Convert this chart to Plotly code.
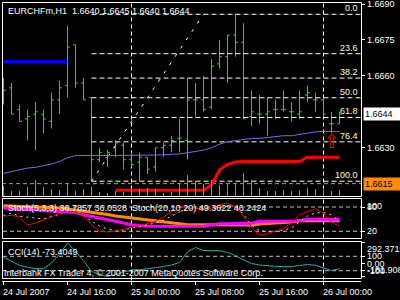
import plotly.graph_objects as go
import pandas as pd

# ---------------- data ----------------
symbol = "EURCHFm,H1"
bar_times = pd.date_range("2007-07-24 08:00", periods=43, freq="h")

opens = [1.6655, 1.6655, 1.6646, 1.6642, 1.6644, 1.6644, 1.6641, 1.6650, 1.6656, 1.6673,
         1.6657, 1.6651, 1.6625, 1.6626, 1.6630, 1.6631, 1.6625, 1.6624, 1.6626, 1.6622,
         1.6630, 1.6631, 1.6634, 1.6633, 1.6650, 1.6650, 1.6647, 1.6665, 1.6668, 1.6677,
         1.6674, 1.6643, 1.6644, 1.6644, 1.6646, 1.6646, 1.6645, 1.6644, 1.6652, 1.6650,
         1.6650, 1.6640, 1.6640]
highs = [1.6659, 1.6657, 1.6648, 1.6646, 1.6649, 1.6646, 1.6653, 1.6658, 1.6681, 1.6673,
         1.6659, 1.6651, 1.6630, 1.6629, 1.6633, 1.6632, 1.6628, 1.6628, 1.6626, 1.6630,
         1.6632, 1.6635, 1.6642, 1.6659, 1.6657, 1.6660, 1.6667, 1.6675, 1.6677, 1.6686,
         1.6682, 1.6654, 1.6652, 1.6651, 1.6650, 1.6654, 1.6649, 1.6654, 1.6656, 1.6653,
         1.6651, 1.6645, 1.6645]
lows = [1.6648, 1.6644, 1.6641, 1.6633, 1.6629, 1.6636, 1.6638, 1.6644, 1.6651, 1.6655,
        1.6650, 1.6616, 1.6624, 1.6622, 1.6626, 1.6621, 1.6622, 1.6616, 1.6619, 1.6620,
        1.6626, 1.6628, 1.6628, 1.6625, 1.6643, 1.6645, 1.6646, 1.6663, 1.6657, 1.6668,
        1.6642, 1.6639, 1.6640, 1.6635, 1.6642, 1.6645, 1.6641, 1.6642, 1.6649, 1.6645,
        1.6643, 1.6636, 1.6640]
closes = [1.6654, 1.6644, 1.6641, 1.6643, 1.6645, 1.6642, 1.6650, 1.6655, 1.6672, 1.6657,
          1.6650, 1.6625, 1.6628, 1.6628, 1.6632, 1.6625, 1.6623, 1.6626, 1.6621, 1.6630,
          1.6631, 1.6633, 1.6634, 1.6650, 1.6650, 1.6646, 1.6664, 1.6668, 1.6677, 1.6674,
          1.6642, 1.6645, 1.6644, 1.6645, 1.6646, 1.6646, 1.6645, 1.6645, 1.6653, 1.6650,
          1.6644, 1.6640, 1.6644]
volumes = [110, 60, 60, 100, 170, 100, 80, 70, 130, 60,
           80, 100, 50, 40, 60, 50, 90, 80, 90, 80,
           40, 50, 130, 220, 160, 130, 170, 120, 140, 140,
           240, 170, 90, 60, 60, 70, 60, 70, 90, 80,
           90, 60, 70]
ma_values = [1.66193, 1.66201, 1.66207, 1.66215, 1.66218, 1.66224, 1.66232, 1.66242, 1.66258, 1.66267,
             1.66268, 1.66269, 1.66268, 1.66267, 1.66268, 1.66268, 1.66267, 1.66268, 1.66269, 1.66269,
             1.66270, 1.66271, 1.66274, 1.66279, 1.66285, 1.66290, 1.66300, 1.66315, 1.66325, 1.66330,
             1.66335, 1.66339, 1.66339, 1.66343, 1.66346, 1.66350, 1.66350, 1.66356, 1.66360, 1.66366,
             1.66368, 1.66368, 1.66368]
red_values = [None] * 14 + [1.66122] * 12 + [1.66144, 1.66207, 1.66230, 1.66240] + [1.66242] * 8 + [1.66260] * 5
blue_level = 1.6666
blue_bars = 9
orange_level = 1.6615
fib_start_bar, fib_end_bar = 11, 25
fib_low, fib_high = 1.66160, 1.66857
fib_levels = [0.0, 23.6, 38.2, 50.0, 61.8, 76.4, 100.0]
signal_bars = [41]
signal_prices = [1.66318]

stoch_fast_main = [57, 59.5, 55.3, 35.6, 40.5, 47.2, 55.3, 64, 69.4, 67.7,
                   60, 35.6, 20, 18.3, 20.7, 25, 29.9, 33.8, 39.8, 44.2,
                   55.3, 67.7, 81.2, 77.5, 77.5, 73.8, 77.5, 85, 90, 80,
                   57.8, 30.6, 9.6, 14.6, 20.7, 27, 40.5, 60.2, 68.9, 75,
                   65.2, 42, 33]
stoch_fast_signal = [58.5, 65.2, 57, 54, 52.8, 50.4, 57.8, 61, 70.1, 71.4,
                     57.8, 45.4, 33, 25.7, 22, 23.2, 28.1, 32.3, 35.6, 40.5,
                     47.9, 57.8, 67.7, 75, 77.5, 76.3, 75, 77.5, 82.5, 82.5,
                     62, 35, 22, 19, 20, 23, 28.1, 43, 57.8, 65.2,
                     66.4, 60.2, 45]
stoch_slow_main = [77.5, 76.3, 75, 73.8, 72.6, 71.4, 69.4, 68.9, 67.7, 66.4,
                   61, 56.5, 52.8, 49.1, 44.7, 40.5, 36.3, 34.3, 32.3, 32.3,
                   32.3, 32.3, 32.3, 32.3, 32.3, 32.3, 35.6, 38.8, 38.8, 38.8,
                   38.8, 39.8, 44.7, 44.7, 44.7, 44.7, 44.7, 45.4, 50, 50,
                   50, 50, 49.4]
stoch_slow_signal = [83.2, 82.5, 81.7, 81.2, 80.5, 80, 78.8, 77.5, 75, 72.6,
                     69.4, 66.4, 64, 61.5, 57.8, 55.3, 52.8, 50.4, 47.9, 45.4,
                     43, 40.5, 38, 36.3, 36.3, 36.3, 36.3, 36.3, 35.6, 35.6,
                     35.6, 35.6, 38, 39.3, 40.5, 42.2, 43, 46.2, 46.2, 46.2,
                     46.2, 46.2, 46.2]
stoch_label = "Stoch(5,3,3) 36.7857 36.0528\u00a0\u00a0Stoch(20,10,20) 49.3622 46.2424"
stoch_levels = [80, 20]
stoch_scale = [100, 0]

cci_values = [86, 31, -25, -53, -72, -72, 7, 132, 285, 169,
              39, -108, -156, -178, -156, -118, -90, -86, -76, -58,
              -42, -21, 14, 160, 222, 181, 178, 178, 153, 111,
              49, 0, -21, -35, -39, -42, -44, -28, -14, -25,
              -63, -97, -73.4049]
cci_levels = [100, -100]
cci_tick_labels = [(292.3716, "292.3716"), (100, "100"), (0, "0.00"), (-100, "-100"), (-181.908, "-181.908")]

price_ticks = [1.6690, 1.6675, 1.6660, 1.6630]
separators = ["2007-07-25 00:00", "2007-07-26 00:00"]
time_ticks = ["2007-07-24 08:00", "2007-07-24 16:00", "2007-07-25 00:00",
              "2007-07-25 08:00", "2007-07-25 16:00", "2007-07-26 00:00"]
time_labels = ["24 Jul 2007", "24 Jul 16:00", "25 Jul 00:00",
               "25 Jul 08:00", "25 Jul 16:00", "26 Jul 00:00"]
copyright_text = "Interbank FX Trader 4, \u00a9 2001-2007 MetaQuotes Software Corp."

# ---------------- layout calibration ----------------
W, H = 400, 300
FONT = "Liberation Sans, Arial, sans-serif"
GREEN = "#32cd32"
def py(px):
    return 1 - px / H
def pxr(px):
    return px / W

x_left, x_right = 2.0, 361.0
px_per_hour = 8.0
t0 = bar_times[0] - pd.Timedelta(hours=1.5 / px_per_hour)
t1 = t0 + pd.Timedelta(hours=(x_right - x_left) / px_per_hour)
fmt = "%Y-%m-%d %H:%M:%S.%f"

main_top, main_bot = 2.5, 196.5
p_ref, p_ref_px, px_per_price = 1.6690, 4.0, 23950.0
main_range = [p_ref - (main_bot - p_ref_px) / px_per_price, p_ref + (p_ref_px - main_top) / px_per_price]
st_top, st_bot = 198.5, 238.5
st_zero_px, st_scale = 239.4, 0.405
st_range = [(st_zero_px - st_bot) / st_scale, (st_zero_px - st_top) / st_scale]
cci_top, cci_bot = 241.5, 278.5
cci_zero_px, cci_scale = 263.5, 0.072
cci_range = [(cci_zero_px - cci_bot) / cci_scale, (cci_zero_px - cci_top) / cci_scale]

fig = go.Figure()

# volumes (overlay axis)
fig.add_trace(go.Bar(x=bar_times, y=volumes, yaxis="y4", width=450000,
                     marker=dict(color=GREEN, line=dict(width=0)), hoverinfo="skip"))

# orange horizontal line
fig.add_trace(go.Scatter(x=[t0, t1], y=[orange_level, orange_level], mode="lines",
                         line=dict(color="#ff8c00", width=1, dash="4px,3px"), hoverinfo="skip"))
# fib levels
for lvl in fib_levels:
    p = fib_high - (fib_high - fib_low) * lvl / 100
    fig.add_trace(go.Scatter(x=[bar_times[fib_start_bar], t1], y=[p, p], mode="lines",
                             line=dict(color="white", width=1, dash="5px,3px"), hoverinfo="skip"))
fig.add_trace(go.Scatter(x=[bar_times[fib_start_bar], bar_times[fib_end_bar]], y=[fib_low, fib_high],
                         mode="lines", line=dict(color="white", width=1, dash="3px,7px"), hoverinfo="skip"))

# moving average
fig.add_trace(go.Scatter(x=bar_times, y=ma_values, mode="lines",
                         line=dict(color="#7b68ee", width=1), hoverinfo="skip"))
# red thick line
fig.add_trace(go.Scatter(x=bar_times, y=red_values, mode="lines",
                         line=dict(color="#ff0000", width=3), hoverinfo="skip"))
# blue line
fig.add_trace(go.Scatter(x=bar_times[:blue_bars], y=[blue_level] * blue_bars, mode="lines",
                         line=dict(color="#0000ff", width=3), hoverinfo="skip"))

# OHLC bars
fig.add_trace(go.Ohlc(x=bar_times, open=opens, high=highs, low=lows, close=closes,
                      increasing=dict(line=dict(color=GREEN, width=1)),
                      decreasing=dict(line=dict(color=GREEN, width=1)),
                      tickwidth=0.3, hoverinfo="skip"))

# signal arrow
fig.add_trace(go.Scatter(x=[bar_times[i] for i in signal_bars], y=signal_prices, mode="text",
                         text=["\u21e7"] * len(signal_bars),
                         textfont=dict(color="#ff0000", size=19, family="DejaVu Sans"), hoverinfo="skip"))

# stochastics
fig.add_trace(go.Scatter(x=bar_times, y=stoch_slow_signal, yaxis="y2", mode="lines",
                         line=dict(color="#ff8c00", width=3), hoverinfo="skip"))
fig.add_trace(go.Scatter(x=bar_times, y=stoch_slow_main, yaxis="y2", mode="lines",
                         line=dict(color="#ff00ff", width=3), hoverinfo="skip"))
fig.add_trace(go.Scatter(x=bar_times, y=stoch_fast_signal, yaxis="y2", mode="lines",
                         line=dict(color="#f0e68c", width=1, dash="2px,4px"), hoverinfo="skip"))
fig.add_trace(go.Scatter(x=bar_times, y=stoch_fast_main, yaxis="y2", mode="lines",
                         line=dict(color="#ff0000", width=1), hoverinfo="skip"))

# CCI
fig.add_trace(go.Scatter(x=bar_times, y=cci_values, yaxis="y3", mode="lines",
                         line=dict(color="#20b2aa", width=1), hoverinfo="skip"))

shapes = []
# panel frames
for top, bot in [(main_top, main_bot), (st_top, st_bot), (cci_top, cci_bot)]:
    shapes.append(dict(type="rect", xref="paper", yref="paper", x0=pxr(2.5), x1=pxr(361.5),
                       y0=py(bot), y1=py(top), line=dict(color="white", width=1), layer="above"))
# level lines
for lv in stoch_levels:
    shapes.append(dict(type="line", xref="paper", yref="y2", x0=pxr(3), x1=pxr(361), y0=lv, y1=lv,
                       line=dict(color="#c0c0c0", width=1, dash="4px,3px"), layer="below"))
for lv in cci_levels:
    shapes.append(dict(type="line", xref="paper", yref="y3", x0=pxr(3), x1=pxr(361), y0=lv, y1=lv,
                       line=dict(color="#c0c0c0", width=1, dash="4px,3px"), layer="below"))
# period separators
for s in separators:
    shapes.append(dict(type="line", xref="x", yref="paper", x0=s, x1=s, y0=py(280.5), y1=py(2.5),
                       line=dict(color="white", width=1, dash="4px,3px"), layer="below"))

ann = []
def txt(text, x, y, xref="paper", yref="paper", xanchor="left", yanchor="middle", color="white",
        size=9, bg=None, **kw):
    d = dict(text=text, x=x, y=y, xref=xref, yref=yref, xanchor=xanchor, yanchor=yanchor,
             showarrow=False, font=dict(color=color, size=size, family=FONT), borderpad=1)
    if bg:
        d["bgcolor"] = bg
    d.update(kw)
    ann.append(d)

txt(f"{symbol}\u00a0\u00a0{opens[-1]:.4f} {highs[-1]:.4f} {lows[-1]:.4f} {closes[-1]:.4f}", pxr(5.5), py(11))
txt(stoch_label, pxr(5.5), py(208))
txt(f"CCI(14) {cci_values[-1]:.4f}", pxr(6), py(252))
txt(copyright_text, pxr(2.3), py(273))

for lvl in fib_levels:
    p = fib_high - (fib_high - fib_low) * lvl / 100
    txt(f"{lvl:.1f}", pxr(359.5), p, yref="y", xanchor="right", yanchor="bottom", color="#ffffcc", yshift=-1)

for p in price_ticks:
    txt(f"{p:.4f}", pxr(365), p, yref="y")
txt(f"{closes[-1]:.4f}", pxr(363), closes[-1], yref="y", color="black", bg="white", width=35, align="left")
txt(f"{orange_level:.4f}", pxr(363), orange_level, yref="y", color="black", bg="#ff8c00", width=35, align="left")

for v in stoch_levels:
    txt(str(v), pxr(365), v, yref="y2")
txt(str(stoch_scale[0]), pxr(365), stoch_scale[0], yref="y2", yanchor="top")
txt(str(stoch_scale[1]), pxr(365), stoch_scale[1], yref="y2", yanchor="bottom")

for v, label in cci_tick_labels:
    ya = "middle"
    if v == max(l[0] for l in cci_tick_labels):
        ya = "top"
    elif v == min(l[0] for l in cci_tick_labels):
        ya = "bottom"
    txt(label, pxr(365), v, yref="y3", yanchor=ya)

for t, lab in zip(time_ticks, time_labels):
    txt(lab, t, py(291.5), xref="x", xshift=-2.5)

yax_common = dict(side="right", showgrid=False, zeroline=False, showline=False, ticks="outside",
                  ticklen=3, tickcolor="white", showticklabels=False, anchor="x", fixedrange=True)

fig.update_layout(
    width=W, height=H, margin=dict(l=0, r=0, t=0, b=0, pad=0),
    paper_bgcolor="black", plot_bgcolor="black", showlegend=False,
    font=dict(family=FONT, color="white", size=9),
    xaxis=dict(type="date", domain=[pxr(x_left), pxr(x_right)],
               range=[t0.strftime(fmt), t1.strftime(fmt)], anchor="free", position=py(280.5),
               showgrid=False, zeroline=False, showline=True, linecolor="white", linewidth=1,
               ticks="outside", ticklen=3, tickcolor="white", tickvals=time_ticks,
               showticklabels=False, rangeslider=dict(visible=False), fixedrange=True),
    yaxis=dict(domain=[py(main_bot), py(main_top)], range=main_range, tickvals=price_ticks, **yax_common),
    yaxis2=dict(domain=[py(st_bot), py(st_top)], range=st_range, tickvals=stoch_levels, **yax_common),
    yaxis3=dict(domain=[py(cci_bot), py(cci_top)], range=cci_range,
                tickvals=[v for v, _ in cci_tick_labels], **yax_common),
    yaxis4=dict(domain=[py(main_bot), py(main_top)], overlaying="y", visible=False,
                range=[0, (main_bot - main_top) * 10], fixedrange=True),
    shapes=shapes, annotations=ann, bargap=0,
)

fig.write_html("out.html", config={"displayModeBar": False})
